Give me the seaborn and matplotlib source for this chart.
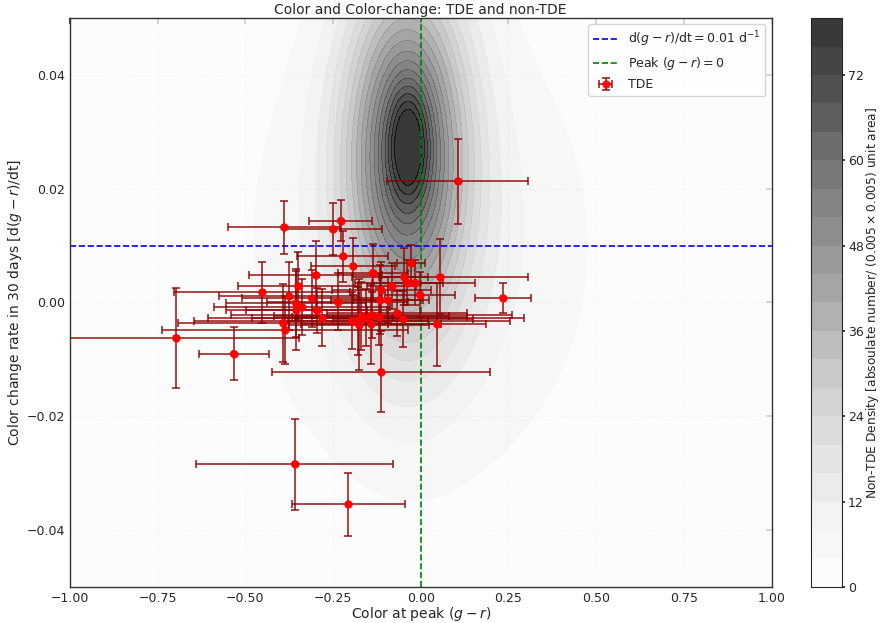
import numpy as np
import pandas as pd
import matplotlib
matplotlib.use("Agg")
import matplotlib.pyplot as plt
import seaborn as sns

# ---- TDE data ----
tde_color = [0.105, -0.390, -0.228, -0.251, -0.222, -0.193, -0.137, -0.299, -0.027, -0.048,
             -0.038, -0.016, -0.003, -0.083, -0.112, -0.117, -0.093, -0.350, -0.452, -0.376,
             -0.310, -0.356, -0.339, -0.354, -0.297, -0.237, -0.280, -0.393, -0.387, -0.697,
             -0.533, -0.359, -0.206, -0.113, 0.046, 0.055, 0.234, -0.195, -0.179, -0.169,
             -0.155, -0.176, -0.142, -0.140, -0.118, -0.068, -0.050]
tde_rate = [0.0213, 0.0132, 0.0144, 0.0129, 0.0081, 0.0064, 0.0052, 0.0048, 0.0069, 0.0045,
            0.0035, 0.0035, 0.0014, 0.0029, 0.0022, 0.0005, 0.0004, 0.0029, 0.0018, 0.0011,
            0.0007, -0.0001, -0.0008, -0.0014, -0.0014, 0.0001, -0.0027, -0.0036, -0.0048, -0.0062,
            -0.0090, -0.0284, -0.0355, -0.0122, -0.0038, 0.0045, 0.0008, -0.0032, -0.0032, -0.0024,
            -0.0027, -0.0039, -0.0038, -0.0022, -0.0025, -0.0019, -0.0029]
tde_color_err = [0.20, 0.16, 0.09, 0.14, 0.13, 0.12, 0.10, 0.19, 0.04, 0.07,
                 0.10, 0.17, 0.10, 0.07, 0.14, 0.14, 0.10, 0.17, 0.25, 0.20,
                 0.20, 0.20, 0.25, 0.20, 0.20, 0.20, 0.20, 0.30, 0.35, 0.35,
                 0.10, 0.28, 0.16, 0.31, 0.14, 0.25, 0.08, 0.45, 0.20, 0.25,
                 0.45, 0.20, 0.20, 0.40, 0.25, 0.20, 0.20]
tde_rate_err = [0.0075, 0.0046, 0.0036, 0.0045, 0.0045, 0.0050, 0.0050, 0.0060, 0.0032, 0.0050,
                0.0040, 0.0040, 0.0040, 0.0040, 0.0050, 0.0060, 0.0040, 0.0060, 0.0054, 0.0060,
                0.0050, 0.0060, 0.0050, 0.0070, 0.0040, 0.0050, 0.0050, 0.0068, 0.0060, 0.0088,
                0.0047, 0.0080, 0.0055, 0.0071, 0.0073, 0.0066, 0.0027, 0.0050, 0.0060, 0.0060,
                0.0050, 0.0080, 0.0070, 0.0040, 0.0050, 0.0040, 0.0050]

# ---- non-TDE density: Gaussian components ----
dens_amp = [58.0, 20.0, 10.0]
dens_cx = [-0.04, -0.035, 0.0]
dens_cy = [0.027, 0.028, 0.010]
dens_sx = [0.12, 0.04, 0.35]
dens_sy = [0.021, 0.007, 0.030]
dens_levels = list(range(0, 84, 4))
cbar_ticks = [0, 12, 24, 36, 48, 60, 72]

sns.set_theme(style="white")
plt.rcParams['font.family'] = ['DejaVu Sans']

fig = plt.figure(figsize=(8.83, 6.23), dpi=100)
ax = fig.add_axes([0.079, 0.058, 0.795, 0.913])
cax = fig.add_axes([0.919, 0.058, 0.035, 0.913])

gx = np.linspace(-1, 1, 241)
gy = np.linspace(-0.05, 0.05, 241)
GX, GY = np.meshgrid(gx, gy)
Z = np.zeros_like(GX)
for a, cx, cy, sx, sy in zip(dens_amp, dens_cx, dens_cy, dens_sx, dens_sy):
    Z += a * np.exp(-0.5 * (((GX - cx) / sx) ** 2 + ((GY - cy) / sy) ** 2))
Z = np.clip(Z, 0, 79.9)
cs = ax.contourf(GX, GY, Z, levels=dens_levels, cmap="Greys", alpha=0.8)
cb = fig.colorbar(cs, cax=cax, ticks=cbar_ticks)
cb.set_label(r"Non-TDE Density [absoulate number/ $(0.005\times0.005)$ unit area]",
             fontsize=8.8, labelpad=0)
cb.ax.tick_params(labelsize=9, direction="out", length=2.5, pad=1.5)
cb.outline.set_linewidth(0.8)

ax.axhline(0.01, color="blue", ls="--", lw=1.2, label=r"d$(g-r)$/dt$=0.01$ d$^{-1}$")
ax.axvline(0.0, color="green", ls="--", lw=1.2, label=r"Peak $(g-r)=0$")

df = pd.DataFrame({"color": tde_color, "rate": tde_rate,
                   "xerr": tde_color_err, "yerr": tde_rate_err})
ax.errorbar(df["color"], df["rate"], xerr=df["xerr"], yerr=df["yerr"], fmt="o",
            color="red", ms=5, ecolor="darkred", elinewidth=1.2, capsize=3,
            capthick=1.2, alpha=0.85, label="TDE", zorder=3)
sns.scatterplot(data=df, x="color", y="rate", color="red", s=28, edgecolor="none",
                legend=False, ax=ax, zorder=4)

ax.set_xlim(-1, 1)
ax.set_ylim(-0.05, 0.05)
ax.set_xticks(np.arange(-1, 1.01, 0.25))
ax.set_yticks([-0.04, -0.02, 0.0, 0.02, 0.04])
ax.grid(True, ls="--", color="#d0d0d0", lw=0.7, alpha=0.8)
ax.tick_params(direction="in", top=True, right=True, labelsize=9, length=4)
for s in ax.spines.values():
    s.set_color("#333333")
    s.set_linewidth(1.0)
ax.set_xlabel(r"Color at peak $(g-r)$", fontsize=10, labelpad=0)
ax.set_ylabel(r"Color change rate in 30 days [d$(g-r)$/dt]", fontsize=10, labelpad=2)
ax.set_title("Color and Color-change: TDE and non-TDE", fontsize=10, pad=3)
ax.legend(loc="upper right", fontsize=9, frameon=True, framealpha=0.8)

fig.savefig("out.png", dpi=100)
